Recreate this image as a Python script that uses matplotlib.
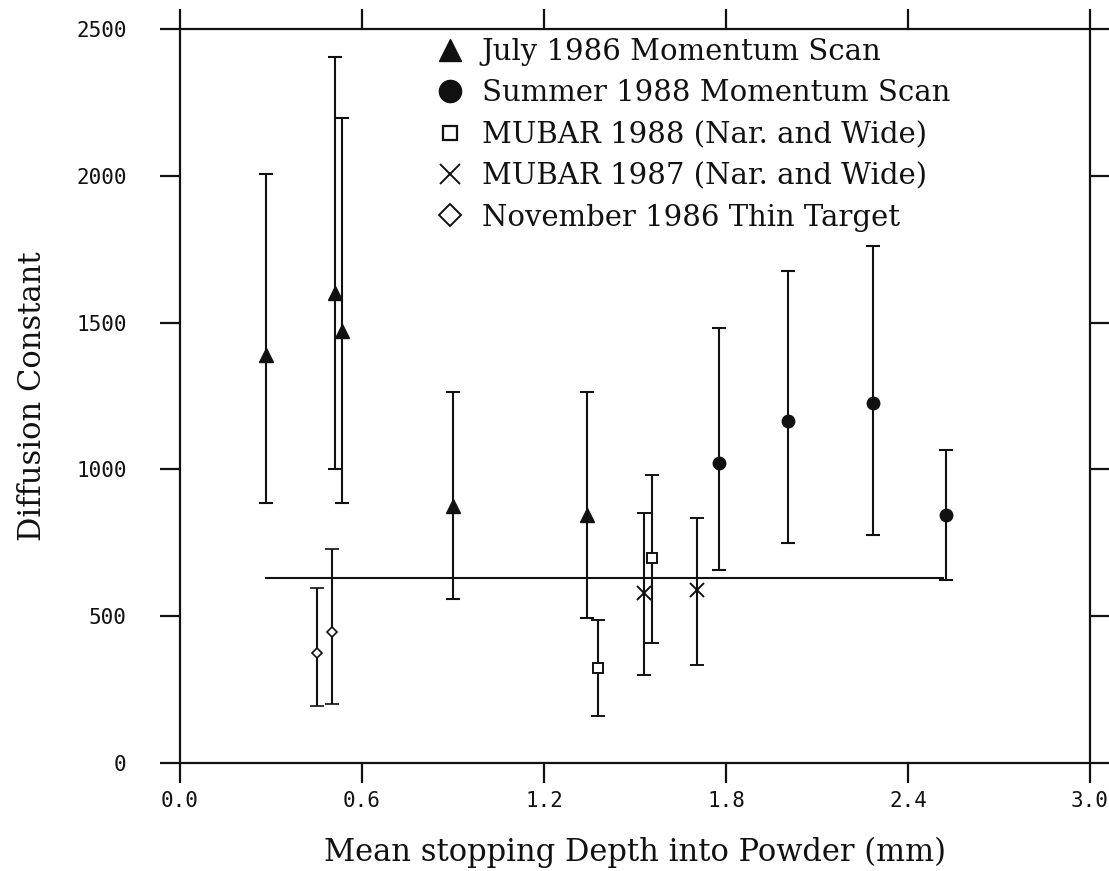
import matplotlib
matplotlib.use("Agg")
import matplotlib.pyplot as plt
from matplotlib.lines import Line2D

# ---- data ----
july86_x = [0.284, 0.512, 0.533, 0.901, 1.341]
july86_y = [1390, 1602, 1471, 875, 845]
july86_lo = [884, 1001, 884, 558, 494]
july86_hi = [2005, 2406, 2198, 1262, 1262]

summer88_x = [1.777, 2.006, 2.286, 2.526]
summer88_y = [1021, 1164, 1225, 846]
summer88_lo = [657, 748, 775, 625]
summer88_hi = [1480, 1675, 1760, 1066]

mubar88_x = [1.377, 1.556]
mubar88_y = [325, 697]
mubar88_lo = [161, 408]
mubar88_hi = [488, 981]

mubar87_x = [1.529, 1.706]
mubar87_y = [578, 589]
mubar87_lo = [301, 334]
mubar87_hi = [852, 833]

nov86_x = [0.453, 0.501]
nov86_y = [374, 447]
nov86_lo = [194, 201]
nov86_hi = [597, 729]

fit_value = 630
fit_range = [0.28, 2.52]

x_ticks = [0.0, 0.6, 1.2, 1.8, 2.4, 3.0]
x_ticklabels = ["0.0", "0.6", "1.2", "1.8", "2.4", "3.0"]
y_ticks = [0, 500, 1000, 1500, 2000, 2500]
y_ticklabels = ["0", "500", "1000", "1500", "2000", "2500"]

legend_labels = ["July 1986 Momentum Scan",
                 "Summer 1988 Momentum Scan",
                 "MUBAR 1988 (Nar. and Wide)",
                 "MUBAR 1987 (Nar. and Wide)",
                 "November 1986 Thin Target"]

# ---- figure ----
fig = plt.figure(figsize=(11.09, 8.71), dpi=100)
ax = fig.add_axes([180/1109, 1 - 763/871, (1090-180)/1109, (763-29)/871])

ink = "#111111"
lw = 1.5
cap = 4.8

def errs(y, lo, hi):
    return [[v - l for v, l in zip(y, lo)], [h - v for v, h in zip(y, hi)]]

common = dict(ls="none", ecolor=ink, elinewidth=lw, capsize=cap, capthick=lw, zorder=3)

ax.errorbar(july86_x, july86_y, yerr=errs(july86_y, july86_lo, july86_hi),
            marker="^", ms=10, mfc=ink, mec=ink, **common)
ax.errorbar(summer88_x, summer88_y, yerr=errs(summer88_y, summer88_lo, summer88_hi),
            marker="o", ms=9, mfc=ink, mec=ink, **common)
ax.errorbar(mubar88_x, mubar88_y, yerr=errs(mubar88_y, mubar88_lo, mubar88_hi),
            marker="s", ms=7.5, mfc="white", mec=ink, mew=1.4, **common)
ax.errorbar(mubar87_x, mubar87_y, yerr=errs(mubar87_y, mubar87_lo, mubar87_hi),
            marker="x", ms=9.5, mfc="none", mec=ink, mew=1.4, **common)
ax.errorbar(nov86_x, nov86_y, yerr=errs(nov86_y, nov86_lo, nov86_hi),
            marker="D", ms=5.5, mfc="white", mec=ink, mew=1.2, **common)

ax.hlines(fit_value, fit_range[0], fit_range[1], color=ink, lw=lw, zorder=2)

ax.set_xlim(0, 3.0)
ax.set_ylim(0, 2500)

for s in ax.spines.values():
    s.set_linewidth(1.6)
    s.set_color(ink)

ax.tick_params(which="both", direction="out", length=14.5, width=1.6, color=ink,
               top=True, right=True, labeltop=False, labelright=False)
ax.tick_params(axis="y", pad=24)
ax.tick_params(axis="x", pad=6)

tick_font = dict(family="DejaVu Sans Mono", size=15, color=ink)
ax.set_xticks(x_ticks)
ax.set_xticklabels(x_ticklabels, **tick_font)
ax.set_yticks(y_ticks)
ax.set_yticklabels(y_ticklabels, **tick_font)

ax.set_xlabel("Mean stopping Depth into Powder (mm)", labelpad=18,
              family="DejaVu Serif", size=22, color=ink)
ax.set_ylabel("Diffusion Constant", labelpad=20,
              family="DejaVu Serif", size=22, color=ink)

handles = [
    Line2D([], [], ls="none", marker="^", ms=16, mfc=ink, mec=ink),
    Line2D([], [], ls="none", marker="o", ms=16, mfc=ink, mec=ink),
    Line2D([], [], ls="none", marker="s", ms=10, mfc="white", mec=ink, mew=1.6),
    Line2D([], [], ls="none", marker="x", ms=14, mec=ink, mew=1.4),
    Line2D([], [], ls="none", marker="D", ms=11, mfc="white", mec=ink, mew=1.4),
]
leg = ax.legend(handles, legend_labels, loc="upper left",
                bbox_to_anchor=((435-180)/910, 1 - (38-29)/734),
                frameon=False, prop=dict(family="DejaVu Serif", size=21),
                handlelength=1.0, handletextpad=0.6, labelspacing=0.46,
                borderaxespad=0, borderpad=0)
for t in leg.get_texts():
    t.set_color(ink)

fig.savefig("out.png", dpi=100)
